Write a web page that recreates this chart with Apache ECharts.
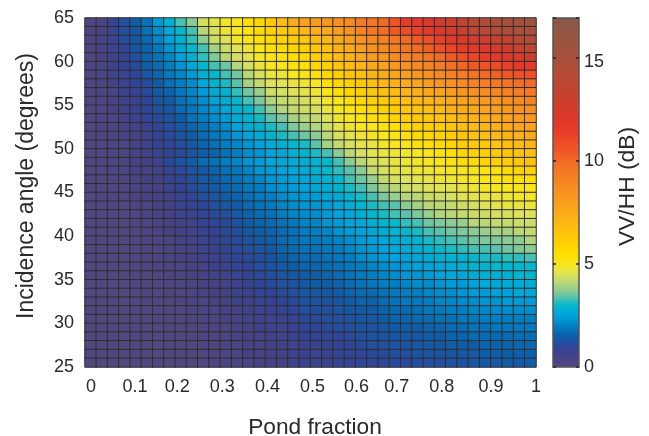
<!DOCTYPE html>
<html>
<head>
<meta charset="utf-8">
<style>
	html, body { margin: 0; padding: 0; background: #fff; }
	#chart { width: 649px; height: 436px; }
</style>
<script src="https://cdn.jsdelivr.net/npm/echarts@6/dist/echarts.min.js"></script>
</head>
<body>
<div id="chart"></div>
<script>
	// cell bins, left edge of each cell
	const pondBins = [0, 0.025, 0.05, 0.075, 0.1, 0.125, 0.15, 0.175, 0.2, 0.225, 0.25, 0.275, 0.3, 0.325, 0.35, 0.375, 0.4, 0.425, 0.45, 0.475, 0.5, 0.525, 0.55, 0.575, 0.6, 0.625, 0.65, 0.675, 0.7, 0.725, 0.75, 0.775, 0.8, 0.825, 0.85, 0.875, 0.9, 0.925, 0.95, 0.975]
	const angleBins = [25, 26, 27, 28, 29, 30, 31, 32, 33, 34, 35, 36, 37, 38, 39, 40, 41, 42, 43, 44, 45, 46, 47, 48, 49, 50, 51, 52, 53, 54, 55, 56, 57, 58, 59, 60, 61, 62, 63, 64]
	const pondTicks = ['0', '0.1', '0.2', '0.3', '0.4', '0.5', '0.6', '0.7', '0.8', '0.9', '1']

	// VV/HH in dB, first row is the top one (64-65 degrees)
	const vvhh = [
		[.2,.4,.8,1.2,1.5,1.8,2.4,2.8,3.3,3.7,4.4,4.6,4.9,5.1,5.5,5.7,6.2,6.8,7.4,7.9,8.0,8.3,8.5,8.8,9.4,9.6,10,10.6,11.5,11.7,12.3,12.7,13,13.7,14,14.5,15,15.2,15.5,15.7],
		[.2,.4,.8,1.2,1.4,1.8,2.2,2.6,3.0,3.3,4.1,4.4,4.8,5.0,5.2,5.6,5.9,6.2,6.6,7.0,7.3,7.6,8.0,8.5,9,9.5,9.9,10.4,10.9,11.3,11.7,12,12.5,13,13.7,14,14.2,14.5,14.8,15],
		[.2,.4,.7,1.2,1.4,1.7,2.1,2.5,2.9,3.2,3.7,4.3,4.5,4.9,5.1,5.4,5.7,5.9,6.2,6.5,6.8,7.0,7.6,8.0,8.4,8.9,9.2,9.6,10,10.4,10.8,11.3,11.8,12.2,12.5,12.9,13.2,13.5,14,14.5],
		[.2,.4,.7,.9,1.4,1.6,1.9,2.3,2.7,3.0,3.3,3.9,4.3,4.5,4.8,5.1,5.4,5.6,5.8,6.0,6.3,6.6,7.2,7.6,8,8.5,8.8,9.2,9.6,10,10.3,10.7,11.1,11.6,11.8,12.2,12.4,12.8,13.2,13.8],
		[.2,.4,.7,.9,1.2,1.6,1.8,2.1,2.5,2.8,3.2,3.6,4.1,4.4,4.6,4.9,5.1,5.3,5.5,5.7,6.0,6.3,6.8,7.2,7.6,8,8.3,8.7,9,9.4,9.7,10,10.4,10.8,11.1,11.5,11.7,12,12.3,13],
		[.2,.3,.6,.9,1.1,1.5,1.7,2.0,2.3,2.6,3.0,3.3,3.5,4.0,4.4,4.7,5.0,5.1,5.3,5.4,5.7,6.0,6.4,6.8,7.1,7.5,7.9,8.2,8.5,8.8,9.1,9.4,9.8,10.1,10.4,10.6,10.9,11.3,11.6,11.7],
		[.2,.3,.6,.8,1.0,1.3,1.6,1.9,2.1,2.4,2.8,3.0,3.3,3.5,4.1,4.4,4.7,4.8,5.0,5.1,5.4,5.7,6.0,6.4,6.7,7.1,7.4,7.7,8,8.3,8.6,8.9,9.2,9.4,9.7,10,10.2,10.4,10.7,10.8],
		[.2,.3,.5,.8,1.0,1.2,1.5,1.8,2.0,2.2,2.6,2.9,3.1,3.4,3.9,4.2,4.5,4.6,4.7,4.8,5.0,5.4,5.7,6.0,6.3,6.7,7.0,7.2,7.5,7.8,8,8.3,8.5,8.8,9,9.3,9.5,9.7,9.9,10],
		[.2,.3,.4,.7,.9,1.1,1.4,1.6,1.9,2.1,2.4,2.7,2.9,3.2,3.5,3.8,4.3,4.4,4.5,4.6,4.8,5.1,5.4,5.7,6,6.3,6.6,6.8,7.1,7.3,7.5,7.8,8,8.3,8.5,8.7,8.9,9.1,9.3,9.5],
		[.1,.2,.4,.6,.8,1.0,1.3,1.5,1.8,2.0,2.2,2.5,2.7,3.0,3.3,3.6,4.0,4.2,4.3,4.4,4.6,4.9,5.1,5.4,5.7,6.0,6.2,6.4,6.7,6.9,7.0,7.3,7.6,7.8,8.0,8.2,8.4,8.6,8.8,9.0],
		[.1,.2,.4,.6,.8,1.0,1.2,1.4,1.7,1.9,2.1,2.3,2.6,2.8,3.0,3.3,3.7,4.0,4.2,4.3,4.4,4.7,5.0,5.2,5.4,5.7,5.9,6.1,6.3,6.5,6.6,6.9,7.2,7.4,7.6,7.8,8.0,8.2,8.4,8.5],
		[.1,.2,.3,.5,.7,.9,1.1,1.3,1.5,1.8,2.0,2.2,2.4,2.7,2.9,3.1,3.4,3.6,3.9,4.1,4.2,4.5,4.8,5.0,5.2,5.4,5.6,5.8,6.0,6.2,6.3,6.5,6.8,7.0,7.2,7.4,7.6,7.8,8.0,8.2],
		[.1,.2,.3,.5,.6,.8,1.0,1.2,1.4,1.6,1.8,2.0,2.2,2.5,2.7,2.9,3.1,3.3,3.6,3.8,4.0,4.3,4.6,4.8,5.0,5.1,5.3,5.5,5.7,5.9,6.0,6.2,6.5,6.7,6.9,7.1,7.3,7.5,7.7,7.9],
		[.1,.2,.3,.4,.5,.7,.9,1.1,1.3,1.5,1.7,1.9,2.1,2.3,2.5,2.7,2.9,3.1,3.3,3.5,3.7,4.1,4.4,4.6,4.8,4.9,5.0,5.2,5.4,5.6,5.7,5.9,6.1,6.3,6.5,6.7,6.9,7.1,7.3,7.5],
		[.1,.1,.2,.3,.5,.7,.9,1.0,1.2,1.4,1.6,1.8,2.0,2.1,2.3,2.5,2.7,2.8,3.0,3.1,3.4,3.9,4.2,4.4,4.6,4.7,4.9,5.0,5.1,5.3,5.4,5.6,5.8,6.0,6.2,6.3,6.5,6.7,6.9,7.1],
		[.1,.1,.2,.3,.4,.6,.8,.9,1.1,1.3,1.5,1.6,1.8,2.0,2.2,2.3,2.5,2.6,2.8,2.9,3.1,3.3,3.7,4.1,4.4,4.6,4.7,4.8,4.9,5.0,5.1,5.3,5.5,5.7,5.9,6.0,6.2,6.4,6.5,6.7],
		[.1,.1,.2,.3,.4,.5,.7,1.1,1.3,1.5,1.7,1.8,2.0,2.1,2.3,2.4,2.6,2.6,2.7,2.8,2.9,3.0,3.3,3.7,4.1,4.4,4.5,4.7,4.8,4.9,5.0,5.1,5.3,5.5,5.6,5.8,6.0,6.2,6.3,6.5],
		[.1,.1,.2,.3,.4,.5,.6,.9,1.1,1.3,1.4,1.6,1.8,1.9,2.1,2.3,2.4,2.5,2.6,2.7,2.8,3.0,3.2,3.4,3.7,4.2,4.4,4.6,4.7,4.8,4.8,4.9,4.9,5.0,5.1,5.2,5.3,5.6,5.8,6.0],
		[.1,.1,.2,.2,.3,.5,.6,.8,1.0,1.2,1.4,1.5,1.7,1.8,2.0,2.1,2.3,2.4,2.5,2.6,2.7,2.9,3.0,3.3,3.5,3.8,4.2,4.4,4.5,4.6,4.7,4.8,4.8,4.9,5.0,5.1,5.2,5.3,5.4,5.5],
		[.1,.1,.1,.2,.3,.4,.5,.7,.9,1.1,1.3,1.4,1.6,1.7,1.9,2.0,2.2,2.3,2.4,2.5,2.6,2.7,2.9,3.1,3.3,3.6,3.9,4.1,4.3,4.4,4.5,4.6,4.6,4.7,4.8,4.9,5.0,5.0,5.1,5.1],
		[0,.1,.1,.2,.3,.4,.5,.6,.8,1.0,1.2,1.3,1.5,1.6,1.8,1.9,2.0,2.2,2.3,2.4,2.4,2.6,2.7,2.9,3.1,3.3,3.6,3.8,4.0,4.1,4.3,4.3,4.4,4.5,4.6,4.7,4.7,4.8,4.9,4.9],
		[0,.1,.1,.1,.2,.3,.4,.6,.8,.9,1.0,1.2,1.4,1.5,1.7,1.8,1.9,2.1,2.2,2.3,2.3,2.4,2.6,2.7,2.9,3.1,3.3,3.4,3.7,3.9,4.1,4.1,4.2,4.3,4.4,4.5,4.6,4.7,4.7,4.8],
		[0,.1,.1,.1,.2,.3,.4,.5,.7,.8,.9,1.1,1.2,1.4,1.6,1.7,1.8,2.0,2.1,2.2,2.2,2.4,2.5,2.6,2.8,3.0,3.1,3.3,3.4,3.6,3.8,4.0,4.1,4.2,4.3,4.3,4.4,4.4,4.5,4.5],
		[0,.1,.1,.1,.2,.2,.3,.4,.6,.7,.9,1.0,1.1,1.3,1.5,1.6,1.7,1.8,1.9,2.1,2.1,2.3,2.4,2.5,2.6,2.8,2.9,3.0,3.2,3.3,3.5,3.6,3.7,3.8,4.1,4.1,4.2,4.2,4.3,4.3],
		[0,0,.1,.1,.1,.2,.3,.4,.5,.7,.8,.9,1.1,1.2,1.4,1.5,1.6,1.7,1.8,2.0,2.0,2.1,2.3,2.4,2.5,2.6,2.7,2.9,3.0,3.1,3.3,3.4,3.5,3.6,3.7,3.8,3.9,3.9,4.1,4.2],
		[0,0,.1,.1,.1,.2,.2,.3,.5,.6,.7,.9,1.0,1.1,1.3,1.4,1.5,1.7,1.8,1.9,1.9,2.0,2.1,2.2,2.4,2.5,2.6,2.7,2.8,2.9,3.1,3.2,3.3,3.4,3.5,3.6,3.6,3.7,3.7,4.0],
		[0,0,.1,.1,.1,.1,.2,.3,.4,.5,.7,.8,.9,1.1,1.2,1.3,1.4,1.6,1.7,1.8,1.8,1.9,2.0,2.1,2.3,2.4,2.5,2.6,2.7,2.8,2.9,3.0,3.1,3.2,3.3,3.3,3.4,3.5,3.6,3.7],
		[0,0,0,.1,.1,.1,.2,.3,.4,.5,.6,.7,.9,1.0,1.1,1.2,1.3,1.5,1.6,1.7,1.7,1.8,1.9,2.0,2.2,2.3,2.4,2.5,2.5,2.6,2.7,2.8,2.9,2.9,3.0,3.1,3.1,3.2,3.2,3.3],
		[0,0,0,.1,.1,.1,.2,.2,.3,.4,.5,.7,.8,.9,1.0,1.2,1.3,1.4,1.5,1.6,1.6,1.7,1.8,1.9,2.0,2.1,2.2,2.3,2.4,2.5,2.5,2.6,2.7,2.8,2.9,2.9,3.0,3.0,3.0,3.0],
		[0,0,0,0,.1,.1,.1,.2,.3,.4,.5,.6,.7,.8,.9,1.1,1.2,1.3,1.4,1.5,1.5,1.6,1.7,1.8,1.9,2.0,2.1,2.2,2.3,2.3,2.4,2.5,2.6,2.6,2.7,2.8,2.8,2.8,2.9,2.9],
		[0,0,0,0,.1,.1,.1,.2,.2,.3,.4,.5,.6,.7,.9,1.0,1.1,1.2,1.3,1.4,1.5,1.5,1.6,1.7,1.8,1.9,2.0,2.0,2.1,2.2,2.2,2.3,2.4,2.4,2.5,2.6,2.6,2.7,2.7,2.7],
		[0,0,0,0,0,.1,.1,.1,.2,.3,.4,.5,.5,.7,.8,.9,1.0,1.1,1.2,1.4,1.4,1.4,1.5,1.6,1.7,1.7,1.8,1.9,2.0,2.0,2.1,2.2,2.2,2.3,2.4,2.4,2.5,2.5,2.6,2.6],
		[0,0,0,0,0,.1,.1,.1,.2,.2,.3,.4,.5,.6,.7,.8,.9,1.0,1.1,1.3,1.3,1.3,1.4,1.5,1.6,1.6,1.7,1.8,1.9,1.9,2.0,2.1,2.1,2.2,2.2,2.3,2.3,2.4,2.4,2.4],
		[0,0,0,0,0,0,.1,.1,.1,.2,.3,.3,.4,.5,.6,.7,.8,.9,1.0,1.2,1.2,1.2,1.3,1.4,1.4,1.5,1.6,1.7,1.7,1.8,1.9,1.9,2.0,2.0,2.1,2.1,2.2,2.2,2.2,2.2],
		[0,0,0,0,0,0,.1,.1,.1,.2,.2,.3,.4,.5,.6,.6,.7,.8,.9,1.1,1.1,1.2,1.2,1.3,1.4,1.4,1.5,1.6,1.6,1.7,1.7,1.8,1.8,1.9,1.9,2.0,2.0,2.0,2.0,2.0],
		[0,0,0,0,0,0,0,.1,.1,.1,.2,.3,.3,.4,.5,.6,.7,.7,.8,1.0,1.0,1.1,1.2,1.2,1.3,1.3,1.4,1.5,1.5,1.5,1.6,1.6,1.7,1.7,1.8,1.8,1.9,1.9,1.9,1.9],
		[0,0,0,0,0,0,0,.1,.1,.1,.2,.2,.3,.4,.5,.5,.6,.7,.8,.9,.9,1.0,1.0,1.1,1.2,1.3,1.3,1.4,1.4,1.4,1.5,1.5,1.6,1.6,1.7,1.7,1.7,1.7,1.75,1.75],
		[0,0,0,0,0,0,0,.1,.1,.1,.2,.2,.3,.3,.4,.5,.6,.6,.7,.8,.8,.9,1.0,1.0,1.1,1.2,1.2,1.3,1.3,1.4,1.4,1.4,1.5,1.5,1.5,1.6,1.6,1.6,1.65,1.65],
		[0,0,0,0,0,0,0,0,.1,.1,.1,.2,.2,.3,.4,.4,.5,.6,.7,.8,.7,.8,.9,.9,1.0,1.1,1.1,1.2,1.2,1.3,1.3,1.3,1.3,1.4,1.4,1.5,1.5,1.5,1.55,1.55],
		[0,0,0,0,0,0,0,0,.1,.1,.1,.2,.2,.3,.3,.4,.5,.5,.6,.8,.7,.8,.8,.9,1.0,1.0,1.0,1.1,1.1,1.2,1.2,1.2,1.3,1.3,1.4,1.4,1.4,1.45,1.45,1.45]
	]

	// colour ramp of the colorbar, one colour every 0.5 dB
	const rampColors = [
		'#50497f', '#464286', '#2f4599', '#0e5da9', '#007fc4', '#00a3dc', '#00b8cd', '#6fc6a3', '#b0d47e', '#dde25a',
		'#f8e71c', '#ffdf00', '#ffd000', '#ffc40b', '#fdb813', '#fbab18', '#f99f1c', '#f8931e', '#f68621', '#f47a22',
		'#f26c24', '#f05626', '#ee4a27', '#e93b28', '#e0382a', '#d53b2c', '#cc3f2e', '#c24432', '#b94935', '#b04d38',
		'#a9503b', '#a1523e', '#985541', '#905745', '#8a5a48'
	]
	const barMax = 16.95

	var cells = []
	for (let r = 0; r < vvhh.length; r++) {
		for (let c = 0; c < vvhh[r].length; c++) {
			cells.push([c, vvhh.length - 1 - r, vvhh[r][c]])
		}
	}

	// the tick labels of the source are nudged by hand, same here
	const labelNudge = [12, 10, 4, 4, 4, 4, 2, -8, -8, 0, 0]
	const inkColor = '#2b2a2a'
	var tickRich = {}
	labelNudge.forEach(function(n, i) {
		tickRich['t' + i] = {
			fontFamily: 'Liberation Sans',
			fontSize: 18,
			color: inkColor,
			padding: n > 0 ? [0, 0, 0, n] : [0, -n, 0, 0]
		}
	})

	const textStyle = { fontFamily: 'Liberation Sans', color: inkColor }
	const plotBox = { left: 85, top: 18, width: 451, height: 349 }
	const barBox = { left: 553, top: 18, width: 26, height: 349 }

	// axis that only carries the small ticks inside the colorbar
	function barTickAxis(side) {
		return {
			type: 'value',
			gridIndex: 1,
			min: 0,
			max: barMax,
			interval: 5,
			position: side,
			offset: -3,
			z: 10,
			axisLine: { show: false },
			axisTick: { show: true, length: 3, lineStyle: { color: '#222', width: 1.5 } },
			axisLabel: { show: false },
			splitLine: { show: false }
		}
	}

	var chart = echarts.init(document.getElementById('chart'), null, { renderer: 'canvas' })
	var option = {
		animation: false,
		backgroundColor: '#fff',
		grid: [
			Object.assign({ show: false, outerBoundsMode: 'none' }, plotBox),
			Object.assign({ show: true, outerBoundsMode: 'none', borderColor: '#555', borderWidth: 1.5, z: 10 }, barBox)
		],
		visualMap: {
			type: 'continuous',
			seriesIndex: 0,
			min: 0,
			max: barMax,
			left: barBox.left,
			top: barBox.top,
			itemWidth: barBox.width,
			itemHeight: barBox.height,
			padding: 0,
			calculable: false,
			hoverLink: false,
			inRange: { color: rampColors }
		},
		xAxis: [
			{ type: 'category', gridIndex: 0, data: pondBins, show: false },
			{
				type: 'value',
				gridIndex: 0,
				min: 0,
				max: 1,
				interval: 0.1,
				position: 'bottom',
				axisLine: { show: false },
				axisTick: { show: false },
				splitLine: { show: false },
				axisLabel: {
					margin: 11,
					formatter: function(v) {
						const i = Math.round(v * 10)
						return '{t' + i + '|' + pondTicks[i] + '}'
					},
					rich: tickRich
				},
				name: 'Pond fraction',
				nameLocation: 'middle',
				nameGap: 49,
				nameTextStyle: Object.assign({ fontSize: 22.7, padding: [0, 0, 0, 9] }, textStyle)
			},
			{ type: 'value', gridIndex: 1, min: 0, max: 1, show: false }
		],
		yAxis: [
			{ type: 'category', gridIndex: 0, data: angleBins, show: false },
			{
				type: 'value',
				gridIndex: 0,
				min: 25,
				max: 65,
				interval: 5,
				position: 'left',
				axisLine: { show: false },
				axisTick: { show: false },
				splitLine: { show: false },
				axisLabel: Object.assign({ fontSize: 18, margin: 11 }, textStyle),
				name: 'Incidence angle (degrees)',
				nameLocation: 'middle',
				nameGap: 47,
				nameTextStyle: Object.assign({ fontSize: 23, padding: [0, 0, 0, 13] }, textStyle)
			},
			{
				type: 'value',
				gridIndex: 1,
				min: 0,
				max: barMax,
				interval: 5,
				position: 'right',
				z: 10,
				axisLine: { show: false },
				axisTick: { show: false },
				splitLine: { show: false },
				axisLabel: Object.assign({
					fontSize: 18,
					margin: 5,
					showMaxLabel: false,
					formatter: function(v) {
						return v === 15 ? '{low|15}' : String(v)
					},
					rich: { low: { fontFamily: 'Liberation Sans', fontSize: 18, color: inkColor, padding: [8, 0, 0, 0] } }
				}, textStyle),
				name: 'VV/HH (dB)',
				nameLocation: 'middle',
				nameRotate: 90,
				nameGap: 37,
				nameTextStyle: Object.assign({ fontSize: 22.8, padding: [0, 0, 0, 12] }, textStyle)
			},
			barTickAxis('left'),
			barTickAxis('right')
		],
		series: [
			{
				type: 'heatmap',
				xAxisIndex: 0,
				yAxisIndex: 0,
				data: cells,
				itemStyle: { borderColor: '#302e2e', borderWidth: 1 },
				emphasis: { disabled: true }
			}
		]
	}
	chart.setOption(option)
</script>
</body>
</html>
